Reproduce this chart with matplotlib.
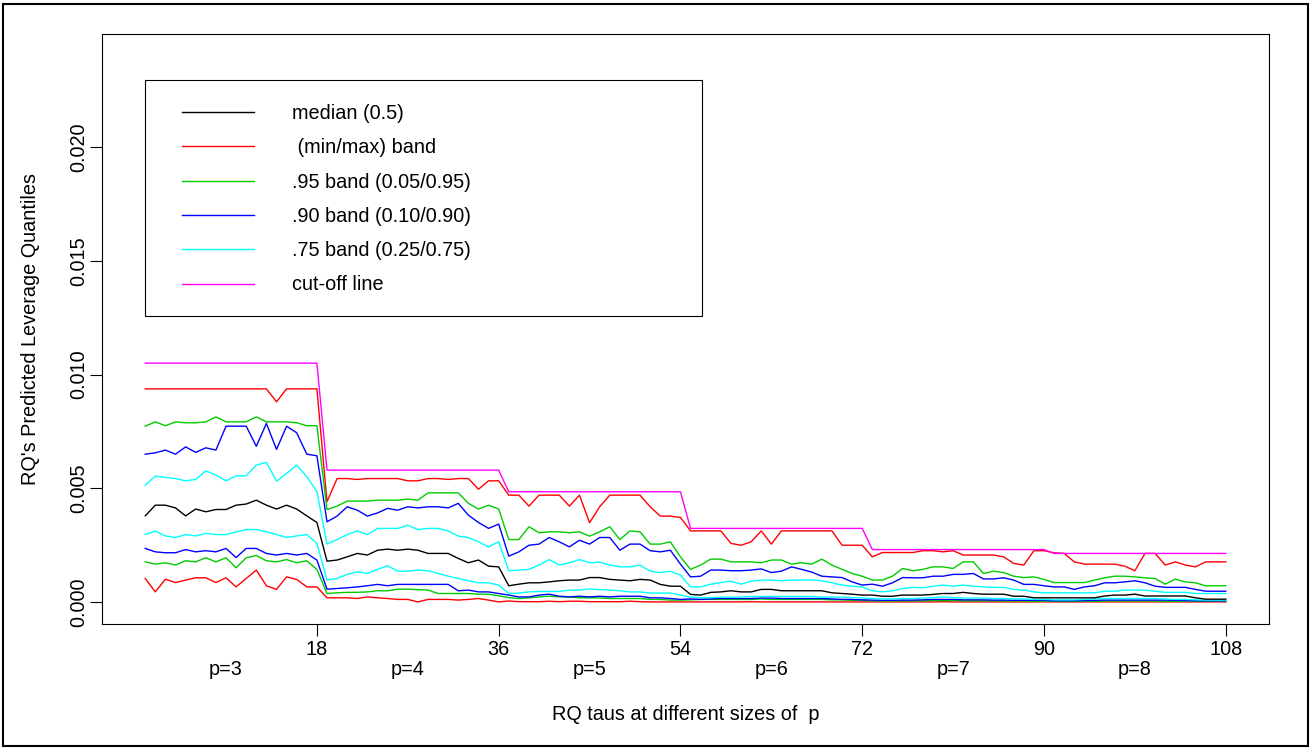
import matplotlib.pyplot as plt
from matplotlib.patches import Rectangle

plt.rcParams['font.family'] = ['Liberation Sans', 'DejaVu Sans']

# quantiles of predicted leverage, taus 1..108 (18 taus for each p = 3..8)
taus = list(range(1, 109))

median = [
    0.00379, 0.00426, 0.00426, 0.00414, 0.00379, 0.00409, 0.00397, 0.00407, 0.00407, 0.00426, 0.00431, 0.00448, 0.00426, 0.00409, 0.00426, 0.00409, 0.00379, 0.00350,
    0.00180, 0.00185, 0.00199, 0.00214, 0.00207, 0.00228, 0.00233, 0.00228, 0.00233, 0.00228, 0.00214, 0.00214, 0.00214, 0.00192, 0.00173, 0.00185, 0.00158, 0.00155,
    0.00072, 0.00079, 0.00085, 0.00085, 0.00089, 0.00094, 0.00097, 0.00097, 0.00108, 0.00108, 0.00100, 0.00097, 0.00094, 0.00100, 0.00097, 0.00078, 0.00070, 0.00070,
    0.00034, 0.00031, 0.00043, 0.00045, 0.00050, 0.00045, 0.00045, 0.00056, 0.00056, 0.00050, 0.00050, 0.00050, 0.00050, 0.00050, 0.00041, 0.00038, 0.00035, 0.00031,
    0.00031, 0.00026, 0.00026, 0.00031, 0.00031, 0.00031, 0.00034, 0.00038, 0.00038, 0.00043, 0.00038, 0.00035, 0.00035, 0.00035, 0.00026, 0.00026, 0.00019, 0.00019,
    0.00019, 0.00019, 0.00019, 0.00019, 0.00019, 0.00027, 0.00031, 0.00031, 0.00035, 0.00027, 0.00027, 0.00027, 0.00027, 0.00027, 0.00019, 0.00013, 0.00013, 0.00013,
]

q_max = [
    0.00937, 0.00937, 0.00937, 0.00937, 0.00937, 0.00937, 0.00937, 0.00937, 0.00937, 0.00937, 0.00937, 0.00937, 0.00937, 0.00880, 0.00937, 0.00937, 0.00937, 0.00937,
    0.00441, 0.00543, 0.00543, 0.00539, 0.00543, 0.00543, 0.00543, 0.00543, 0.00533, 0.00533, 0.00543, 0.00543, 0.00539, 0.00543, 0.00543, 0.00496, 0.00533, 0.00533,
    0.00470, 0.00470, 0.00422, 0.00470, 0.00470, 0.00470, 0.00422, 0.00470, 0.00349, 0.00419, 0.00470, 0.00470, 0.00470, 0.00470, 0.00419, 0.00378, 0.00378, 0.00372,
    0.00313, 0.00313, 0.00313, 0.00313, 0.00258, 0.00250, 0.00265, 0.00313, 0.00255, 0.00313, 0.00313, 0.00313, 0.00313, 0.00313, 0.00313, 0.00250, 0.00250, 0.00250,
    0.00199, 0.00218, 0.00218, 0.00218, 0.00218, 0.00226, 0.00226, 0.00221, 0.00226, 0.00207, 0.00207, 0.00207, 0.00207, 0.00199, 0.00170, 0.00163, 0.00226, 0.00226,
    0.00217, 0.00214, 0.00177, 0.00167, 0.00167, 0.00167, 0.00167, 0.00158, 0.00138, 0.00214, 0.00214, 0.00163, 0.00177, 0.00163, 0.00155, 0.00177, 0.00177, 0.00177,
]

q_min = [
    0.00104, 0.00045, 0.00101, 0.00086, 0.00097, 0.00107, 0.00107, 0.00086, 0.00107, 0.00067, 0.00104, 0.00141, 0.00072, 0.00056, 0.00111, 0.00100, 0.00067, 0.00067,
    0.00019, 0.00019, 0.00019, 0.00016, 0.00023, 0.00019, 0.00016, 0.00012, 0.00012, 0.00001, 0.00012, 0.00012, 0.00012, 0.00009, 0.00012, 0.00016, 0.00009, 0.00001,
    0.00005, 0.00002, 0.00002, 0.00002, 0.00004, 0.00002, 0.00004, 0.00004, 0.00002, 0.00002, 0.00002, 0.00002, 0.00004, 0.00002, 0.00001, 0.00001, 0.00001, 0.00001,
    0.00001, 0.00001, 0.00001, 0.00001, 0.00001, 0.00001, 0.00002, 0.00001, 0.00001, 0.00001, 0.00001, 0.00001, 0.00001, 0.00001, 0.00001, 0.00001, 0.00001, 0.00001,
    0.00001, 0.00001, 0.00001, 0.00001, 0.00001, 0.00001, 0.00001, 0.00002, 0.00001, 0.00001, 0.00001, 0.00001, 0.00001, 0.00001, 0.00001, 0.00001, 0.00001, 0.00001,
    0.00001, 0.00001, 0.00001, 0.00001, 0.00001, 0.00001, 0.00001, 0.00001, 0.00001, 0.00001, 0.00001, 0.00001, 0.00001, 0.00001, 0.00001, 0.00001, 0.00001, 0.00001,
]

q95 = [
    0.00773, 0.00792, 0.00775, 0.00792, 0.00788, 0.00788, 0.00792, 0.00814, 0.00792, 0.00792, 0.00792, 0.00814, 0.00792, 0.00792, 0.00792, 0.00788, 0.00775, 0.00775,
    0.00407, 0.00422, 0.00444, 0.00444, 0.00444, 0.00448, 0.00448, 0.00448, 0.00453, 0.00448, 0.00480, 0.00480, 0.00480, 0.00480, 0.00434, 0.00409, 0.00426, 0.00409,
    0.00275, 0.00275, 0.00331, 0.00305, 0.00309, 0.00309, 0.00305, 0.00309, 0.00290, 0.00309, 0.00331, 0.00275, 0.00313, 0.00309, 0.00255, 0.00255, 0.00265, 0.00199,
    0.00144, 0.00163, 0.00189, 0.00189, 0.00177, 0.00177, 0.00177, 0.00173, 0.00185, 0.00185, 0.00167, 0.00173, 0.00167, 0.00189, 0.00163, 0.00144, 0.00126, 0.00114,
    0.00097, 0.00097, 0.00114, 0.00148, 0.00138, 0.00144, 0.00155, 0.00155, 0.00148, 0.00177, 0.00177, 0.00126, 0.00136, 0.00130, 0.00114, 0.00108, 0.00111, 0.00100,
    0.00086, 0.00086, 0.00086, 0.00086, 0.00097, 0.00107, 0.00114, 0.00114, 0.00111, 0.00107, 0.00104, 0.00079, 0.00101, 0.00089, 0.00085, 0.00072, 0.00072, 0.00072,
]

q05 = [
    0.00177, 0.00167, 0.00173, 0.00163, 0.00182, 0.00177, 0.00195, 0.00177, 0.00195, 0.00151, 0.00195, 0.00205, 0.00182, 0.00177, 0.00187, 0.00173, 0.00182, 0.00144,
    0.00038, 0.00041, 0.00043, 0.00043, 0.00045, 0.00050, 0.00050, 0.00057, 0.00057, 0.00055, 0.00053, 0.00038, 0.00038, 0.00038, 0.00038, 0.00035, 0.00035, 0.00028,
    0.00020, 0.00016, 0.00019, 0.00023, 0.00026, 0.00023, 0.00023, 0.00019, 0.00019, 0.00019, 0.00016, 0.00016, 0.00016, 0.00016, 0.00012, 0.00012, 0.00009, 0.00009,
    0.00010, 0.00012, 0.00012, 0.00012, 0.00012, 0.00012, 0.00012, 0.00014, 0.00012, 0.00012, 0.00012, 0.00012, 0.00012, 0.00012, 0.00010, 0.00010, 0.00008, 0.00008,
    0.00006, 0.00005, 0.00005, 0.00006, 0.00006, 0.00006, 0.00007, 0.00007, 0.00007, 0.00006, 0.00006, 0.00006, 0.00006, 0.00005, 0.00005, 0.00005, 0.00004, 0.00004,
    0.00004, 0.00003, 0.00003, 0.00004, 0.00004, 0.00005, 0.00005, 0.00005, 0.00005, 0.00005, 0.00005, 0.00004, 0.00004, 0.00004, 0.00004, 0.00005, 0.00005, 0.00005,
]

q90 = [
    0.00650, 0.00656, 0.00668, 0.00650, 0.00682, 0.00658, 0.00678, 0.00668, 0.00773, 0.00773, 0.00773, 0.00685, 0.00785, 0.00671, 0.00773, 0.00744, 0.00650, 0.00643,
    0.00353, 0.00378, 0.00419, 0.00404, 0.00378, 0.00392, 0.00412, 0.00404, 0.00419, 0.00414, 0.00419, 0.00419, 0.00414, 0.00434, 0.00382, 0.00350, 0.00324, 0.00343,
    0.00202, 0.00221, 0.00250, 0.00255, 0.00284, 0.00265, 0.00243, 0.00272, 0.00255, 0.00284, 0.00284, 0.00228, 0.00255, 0.00255, 0.00226, 0.00221, 0.00228, 0.00167,
    0.00111, 0.00114, 0.00141, 0.00141, 0.00138, 0.00138, 0.00141, 0.00146, 0.00130, 0.00136, 0.00155, 0.00144, 0.00132, 0.00114, 0.00111, 0.00108, 0.00089, 0.00075,
    0.00079, 0.00070, 0.00085, 0.00108, 0.00107, 0.00107, 0.00114, 0.00114, 0.00122, 0.00122, 0.00126, 0.00102, 0.00102, 0.00107, 0.00097, 0.00078, 0.00078, 0.00072,
    0.00067, 0.00067, 0.00056, 0.00067, 0.00072, 0.00085, 0.00085, 0.00089, 0.00094, 0.00085, 0.00070, 0.00065, 0.00065, 0.00065, 0.00056, 0.00048, 0.00048, 0.00048,
]

q10 = [
    0.00236, 0.00221, 0.00217, 0.00217, 0.00231, 0.00221, 0.00226, 0.00221, 0.00236, 0.00196, 0.00236, 0.00236, 0.00214, 0.00207, 0.00214, 0.00207, 0.00214, 0.00185,
    0.00057, 0.00060, 0.00063, 0.00067, 0.00072, 0.00078, 0.00072, 0.00078, 0.00078, 0.00078, 0.00078, 0.00078, 0.00078, 0.00050, 0.00053, 0.00045, 0.00045, 0.00038,
    0.00031, 0.00023, 0.00023, 0.00031, 0.00035, 0.00026, 0.00023, 0.00026, 0.00023, 0.00026, 0.00023, 0.00026, 0.00026, 0.00026, 0.00019, 0.00019, 0.00016, 0.00012,
    0.00014, 0.00012, 0.00014, 0.00016, 0.00016, 0.00016, 0.00016, 0.00018, 0.00018, 0.00016, 0.00016, 0.00016, 0.00016, 0.00016, 0.00014, 0.00012, 0.00012, 0.00010,
    0.00009, 0.00008, 0.00008, 0.00009, 0.00009, 0.00010, 0.00012, 0.00012, 0.00012, 0.00010, 0.00010, 0.00010, 0.00009, 0.00009, 0.00008, 0.00008, 0.00008, 0.00008,
    0.00006, 0.00006, 0.00006, 0.00007, 0.00008, 0.00009, 0.00009, 0.00009, 0.00009, 0.00009, 0.00009, 0.00009, 0.00008, 0.00007, 0.00006, 0.00006, 0.00006, 0.00006,
]

q75 = [
    0.00514, 0.00554, 0.00548, 0.00543, 0.00533, 0.00539, 0.00577, 0.00558, 0.00533, 0.00555, 0.00555, 0.00602, 0.00614, 0.00532, 0.00565, 0.00602, 0.00551, 0.00485,
    0.00255, 0.00275, 0.00297, 0.00313, 0.00297, 0.00324, 0.00324, 0.00324, 0.00338, 0.00319, 0.00324, 0.00324, 0.00313, 0.00290, 0.00284, 0.00265, 0.00243, 0.00265,
    0.00138, 0.00141, 0.00144, 0.00163, 0.00187, 0.00163, 0.00173, 0.00187, 0.00173, 0.00176, 0.00163, 0.00155, 0.00155, 0.00163, 0.00136, 0.00130, 0.00136, 0.00119,
    0.00067, 0.00067, 0.00079, 0.00086, 0.00092, 0.00079, 0.00092, 0.00097, 0.00097, 0.00094, 0.00097, 0.00097, 0.00097, 0.00094, 0.00085, 0.00075, 0.00070, 0.00067,
    0.00050, 0.00045, 0.00050, 0.00060, 0.00065, 0.00063, 0.00070, 0.00075, 0.00070, 0.00075, 0.00070, 0.00067, 0.00065, 0.00065, 0.00056, 0.00053, 0.00045, 0.00041,
    0.00041, 0.00041, 0.00041, 0.00041, 0.00041, 0.00048, 0.00048, 0.00053, 0.00053, 0.00053, 0.00048, 0.00043, 0.00043, 0.00043, 0.00038, 0.00038, 0.00038, 0.00038,
]

q25 = [
    0.00297, 0.00312, 0.00291, 0.00284, 0.00297, 0.00291, 0.00302, 0.00297, 0.00297, 0.00308, 0.00319, 0.00319, 0.00309, 0.00297, 0.00284, 0.00291, 0.00297, 0.00258,
    0.00097, 0.00104, 0.00122, 0.00133, 0.00126, 0.00144, 0.00160, 0.00136, 0.00136, 0.00141, 0.00138, 0.00126, 0.00114, 0.00104, 0.00094, 0.00085, 0.00085, 0.00075,
    0.00038, 0.00040, 0.00045, 0.00047, 0.00047, 0.00047, 0.00053, 0.00053, 0.00058, 0.00055, 0.00053, 0.00050, 0.00045, 0.00045, 0.00040, 0.00040, 0.00040, 0.00031,
    0.00022, 0.00020, 0.00020, 0.00022, 0.00022, 0.00022, 0.00025, 0.00025, 0.00025, 0.00025, 0.00025, 0.00025, 0.00025, 0.00022, 0.00022, 0.00022, 0.00020, 0.00018,
    0.00016, 0.00014, 0.00014, 0.00016, 0.00016, 0.00018, 0.00020, 0.00023, 0.00020, 0.00018, 0.00018, 0.00018, 0.00016, 0.00016, 0.00014, 0.00014, 0.00012, 0.00012,
    0.00010, 0.00010, 0.00010, 0.00012, 0.00014, 0.00016, 0.00016, 0.00016, 0.00016, 0.00016, 0.00016, 0.00014, 0.00012, 0.00012, 0.00010, 0.00009, 0.00009, 0.00009,
]

# cut-off value per p (constant within each block of 18 taus)
cutoff_p = [0.01050, 0.00580, 0.00485, 0.00324, 0.00231, 0.00214]
cutoff = [c for c in cutoff_p for _ in range(18)]

p_labels = ["p=3", "p=4", "p=5", "p=6", "p=7", "p=8"]
p_label_pos = [9, 27, 45, 63, 81, 99]
xticks = [18, 36, 54, 72, 90, 108]
yticks = [0.000, 0.005, 0.010, 0.015, 0.020]

W, H = 1312, 749
fig = plt.figure(figsize=(W / 100, H / 100), dpi=100)
ax = fig.add_axes([102 / W, 1 - 624 / H, (1269 - 102) / W, (624 - 34) / H])

green = "#00CC00"
lw = 1.0
ax.plot(taus, q_min, color="red", lw=lw)
ax.plot(taus, q_max, color="red", lw=lw)
ax.plot(taus, q05, color=green, lw=lw)
ax.plot(taus, q95, color=green, lw=lw)
ax.plot(taus, q10, color="blue", lw=lw)
ax.plot(taus, q90, color="blue", lw=lw)
ax.plot(taus, q25, color="cyan", lw=lw)
ax.plot(taus, q75, color="cyan", lw=lw)
ax.plot(taus, median, color="black", lw=lw)
ax.plot(taus, cutoff, color="magenta", lw=lw)

ax.set_xlim(-3.28, 112.28)
ax.set_ylim(-0.00096, 0.02496)
ax.set_xticks(xticks)
ax.set_xticklabels([str(t) for t in xticks])
ax.set_yticks(yticks)
ax.set_yticklabels(["%.3f" % v for v in yticks])

fs = 14.3
ax.tick_params(axis="x", length=8.6, width=0.8, pad=3, labelsize=fs)
ax.tick_params(axis="y", length=8.6, width=0.8, pad=1, labelsize=fs, labelrotation=90)
for lab in ax.get_yticklabels():
    lab.set_verticalalignment("center")
for s in ax.spines.values():
    s.set_linewidth(0.8)

for lab, pos in zip(p_labels, p_label_pos):
    ax.text(pos, -0.0616, lab, transform=ax.get_xaxis_transform(),
            ha="center", va="top", fontsize=fs)

ax.text(0.5, -0.138, "RQ taus at different sizes of  p", transform=ax.transAxes,
        ha="center", va="top", fontsize=fs)
fig.text(31 / W, 1 - 329 / H, "RQ's Predicted Leverage Quantiles", rotation=90,
         ha="center", va="center", fontsize=fs)

# legend: box drawn separately, entries placed inside it
handles = [
    plt.Line2D([], [], color="black", lw=lw),
    plt.Line2D([], [], color="red", lw=lw),
    plt.Line2D([], [], color=green, lw=lw),
    plt.Line2D([], [], color="blue", lw=lw),
    plt.Line2D([], [], color="cyan", lw=lw),
    plt.Line2D([], [], color="magenta", lw=lw),
]
labels = ["median (0.5)", " (min/max) band", ".95 band (0.05/0.95)",
          ".90 band (0.10/0.90)", ".75 band (0.25/0.75)", "cut-off line"]
ax.legend(handles, labels, loc="upper left",
          bbox_to_anchor=((182 - 102) / 1167, (624 - 104) / 590),
          frameon=False, fontsize=fs, borderpad=0, borderaxespad=0,
          handlelength=3.62, handletextpad=1.9, labelspacing=0.77)
ax.add_patch(Rectangle(((145 - 102) / 1167, (624 - 316) / 590),
                       (702 - 145) / 1167, (316 - 80) / 590,
                       transform=ax.transAxes, fill=False, lw=0.8,
                       edgecolor="black"))

fig.patches.append(Rectangle((3 / W, 3 / H), (W - 7) / W, (H - 7) / H,
                             transform=fig.transFigure, fill=False,
                             lw=1.5, edgecolor="black"))

fig.savefig("out.png", dpi=100)
